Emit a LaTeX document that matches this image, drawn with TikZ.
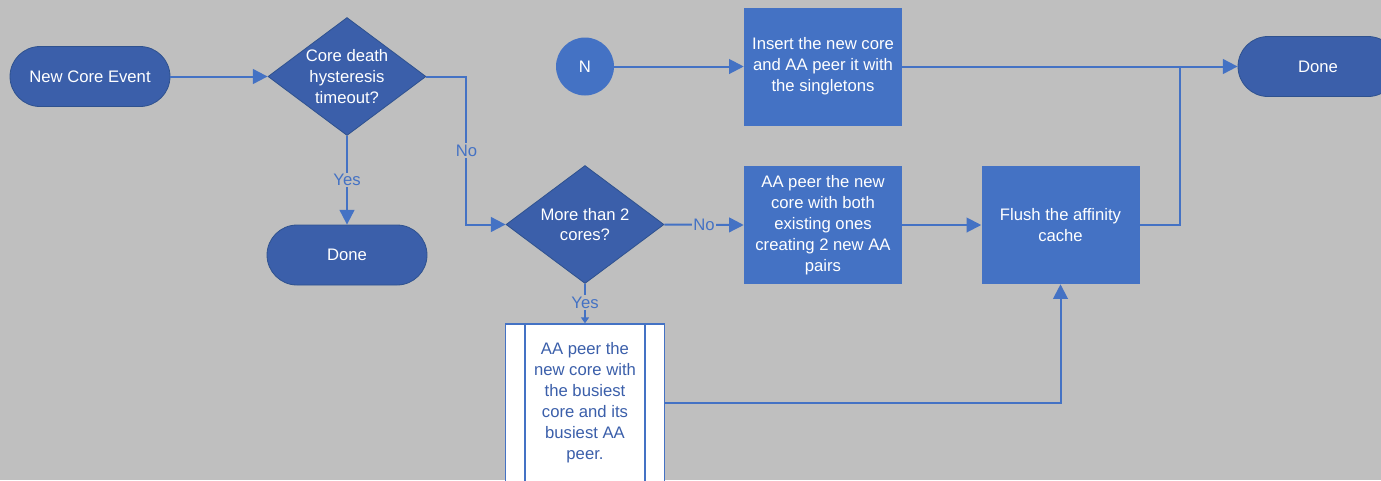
\documentclass[tikz,border=0pt]{standalone}
\usepackage{fontspec}
\setmainfont{Liberation Sans}
\usetikzlibrary{shapes.geometric,arrows.meta,calc}
\definecolor{bg}{HTML}{BFBFBF}
\definecolor{darkblue}{HTML}{3B5FAA}
\definecolor{edgeblue}{HTML}{2F528F}
\definecolor{boxblue}{HTML}{4472C4}
\newcommand\diagfont{\fontsize{12.5pt}{15.7pt}\selectfont}
\begin{document}
\begin{tikzpicture}[x=0.75pt,y=-0.75pt,
  term/.style={rectangle, rounded corners=22.5pt, fill=darkblue, draw=edgeblue,
    line width=0.6pt, minimum width=120pt, minimum height=45pt, text=white, font=\diagfont},
  decision/.style={diamond, aspect=1.34, inner sep=0pt, fill=darkblue, draw=edgeblue,
    line width=0.6pt, minimum width=118.5pt, minimum height=88.5pt, text=white,
    align=center, font=\diagfont},
  procbox/.style={rectangle, fill=boxblue, minimum width=118.5pt, minimum height=88.5pt,
    text=white, align=center, font=\diagfont},
  predef/.style={rectangle, fill=white, draw=boxblue, line width=1pt, minimum width=119pt,
    minimum height=118.5pt, text=darkblue, align=center, font=\diagfont},
  connector/.style={circle, fill=boxblue, minimum size=43.5pt, inner sep=0pt, text=white,
    font=\diagfont},
  lbl/.style={fill=bg, text=boxblue, inner sep=1pt, font=\diagfont},
  line/.style={draw=boxblue, line width=1.5pt},
  flow/.style={line, -{Triangle[length=11pt,width=11pt]}},
  smallflow/.style={line, -{Triangle[length=4.5pt,width=6pt]}}
]
\path[use as bounding box, fill=bg] (0,0) rectangle (1381,480);
\clip (0,0) rectangle (1381,480);

% nodes
\node[term] (start) at (90,76.5) {New Core Event};
\node[decision] (dec1) at (347,76.5) {Core death\\hysteresis\\timeout?};
\node[term] (doneA) at (347,255) {Done};
\node[decision] (dec2) at (585,224.5) {More than 2\\cores?};
\node[procbox] (pairbox) at (823,225) {AA peer the new\\core with both\\existing ones\\creating 2 new AA\\pairs};
\node[procbox] (flush) at (1060.5,225) {Flush the affinity\\cache};
\node[connector] (nconn) at (585,66.5) {N};
\node[procbox] (insert) at (823,66.5) {Insert the new core\\and AA peer it with\\the singletons};
\node[term] (doneB) at (1318,66.5) {Done};
\node[predef] (busy) at (585,403) {AA peer the\\new core with\\the busiest\\core and its\\busiest AA\\peer.};
\draw[boxblue, line width=1pt] ($(busy.north west)+(20,0)$) -- ($(busy.south west)+(20,0)$);
\draw[boxblue, line width=1pt] ($(busy.north east)+(-20,0)$) -- ($(busy.south east)+(-20,0)$);
\coordinate (join) at (1180,66.5);

% connectors
\draw[flow] (start.east) -- (dec1.west);
\draw[flow] (dec1.south) -- (doneA.north) node[midway, lbl] {Yes};
\draw[flow] (dec1.east) -- ++(40,0) |- (dec2.west) node[pos=0.25, lbl] {No};
\draw[flow] (dec2.east) -- (pairbox.west) node[midway, lbl] {No};
\draw[flow] (pairbox.east) -- (flush.west);
\draw[line] (flush.east) -| (join);
\draw[flow] (nconn.east) -- (insert.west);
\draw[flow] (insert.east) -- (doneB.west);
\draw[smallflow] (dec2.south) -- (busy.north) node[pos=0.47, lbl] {Yes};
\draw[flow] (busy.east) -| (flush.south);
\end{tikzpicture}
\end{document}
